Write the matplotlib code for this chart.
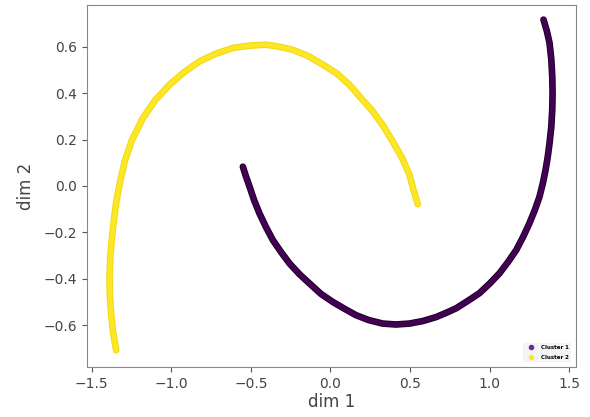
import matplotlib
matplotlib.use("Agg")
import matplotlib.pyplot as plt
import matplotlib.patheffects as pe
from matplotlib.lines import Line2D

# points
cluster1_x = [-0.55, -0.53, -0.508, -0.48, -0.446, -0.405, -0.362, -0.31, -0.257,
              -0.195, -0.132, -0.06, 0.015, 0.09, 0.161, 0.24, 0.328, 0.41, 0.496,
              0.58, 0.663, 0.725, 0.789, 0.86, 0.935, 1.0, 1.061, 1.115, 1.166,
              1.21, 1.249, 1.283, 1.312, 1.333, 1.35, 1.364, 1.375, 1.386, 1.392,
              1.394, 1.392, 1.386, 1.375, 1.358, 1.337]
cluster1_y = [0.083, 0.04, -0.003, -0.06, -0.118, -0.177, -0.233, -0.285, -0.334,
              -0.38, -0.42, -0.465, -0.5, -0.53, -0.557, -0.578, -0.593, -0.597, -0.593,
              -0.582, -0.565, -0.547, -0.527, -0.496, -0.462, -0.42, -0.376, -0.327, -0.276,
              -0.218, -0.16, -0.103, -0.046, 0.012, 0.069, 0.127, 0.185, 0.256, 0.328,
              0.40, 0.472, 0.545, 0.616, 0.668, 0.717]

cluster2_x = [0.548, 0.52, 0.496, 0.45, 0.391, 0.33, 0.266, 0.19, 0.119, 0.04,
              -0.048, -0.14, -0.237, -0.32, -0.404, -0.51, -0.613, -0.72, -0.822,
              -0.92, -1.011, -1.10, -1.178, -1.245, -1.29, -1.32, -1.345, -1.36,
              -1.373, -1.382, -1.387, -1.385, -1.377, -1.365, -1.345]
cluster2_y = [-0.078, -0.015, 0.048, 0.12, 0.191, 0.26, 0.321, 0.38, 0.436, 0.485,
              0.523, 0.56, 0.587, 0.60, 0.609, 0.605, 0.595, 0.57, 0.537,
              0.49, 0.436, 0.37, 0.292, 0.2, 0.11, 0.02, -0.07, -0.15,
              -0.23, -0.31, -0.39, -0.47, -0.55, -0.63, -0.708]

labels = ["Cluster 1", "Cluster 2"]
colors = ["#440154", "#fde725"]
edges = ["#1c0029", "#f0d81a"]

fig = plt.figure(figsize=(5.9, 4.17), dpi=100)
ax = fig.add_axes([0.147, 0.12, 0.829, 0.868])

for xs, ys, c, ec in [(cluster1_x, cluster1_y, colors[0], edges[0]),
                      (cluster2_x, cluster2_y, colors[1], edges[1])]:
    ax.plot(xs, ys, color=c, lw=3.4, solid_capstyle="round", solid_joinstyle="round",
            path_effects=[pe.Stroke(linewidth=4.8, foreground=ec, capstyle="round",
                                    joinstyle="round"), pe.Normal()])

ax.set_xlim(-1.53, 1.54)
ax.set_ylim(-0.78, 0.78)
ax.set_xticks([-1.5, -1.0, -0.5, 0.0, 0.5, 1.0, 1.5])
ax.set_yticks([-0.6, -0.4, -0.2, 0.0, 0.2, 0.4, 0.6])
ax.tick_params(labelsize=10, colors="#555555", labelcolor="#444444")
for s in ax.spines.values():
    s.set_color("#888888")

ax.set_xlabel("dim 1", fontsize=12, color="#444444", labelpad=2)
ax.set_ylabel("dim 2", fontsize=12, color="#444444", labelpad=6)

handles = [Line2D([], [], ls="", marker="o", ms=3, color="#6a2c9a"),
           Line2D([], [], ls="", marker="o", ms=3, color=colors[1])]
leg = ax.legend(handles, labels, loc="lower right", prop={"size": 4, "weight": "bold"},
                frameon=True, facecolor="#f3f4f6", edgecolor="none", framealpha=1,
                borderaxespad=0.9, handletextpad=0.8, labelspacing=0.9)

fig.savefig("out.png", dpi=100)
